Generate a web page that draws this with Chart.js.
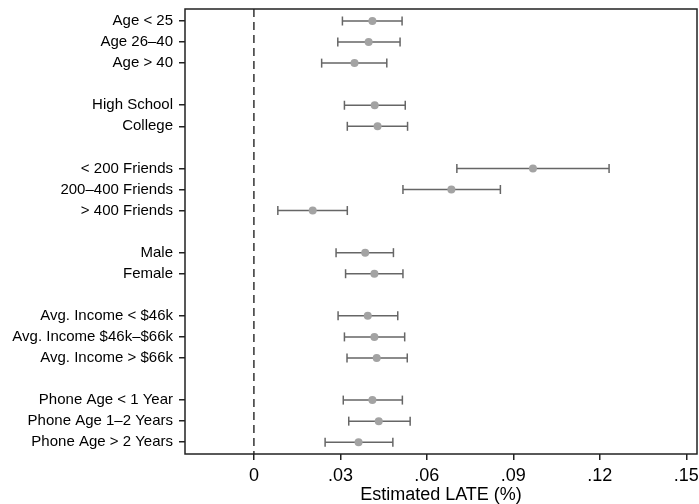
<!DOCTYPE html>
<html>
<head>
<meta charset="utf-8">
<script src="https://cdn.jsdelivr.net/npm/chart.js@4.4.0/dist/chart.umd.min.js"></script>
<style>
  html, body { margin: 0; padding: 0; background: #fff; }
  #wrap { width: 699px; height: 504px; }
</style>
</head>
<body>
<div id="wrap"><canvas id="lateChart" width="699" height="504"></canvas></div>
<script>
// rows of the plot, "" = blank spacer row between groups
const categories = [
  "Age < 25", "Age 26–40", "Age > 40", "",
  "High School", "College", "",
  "< 200 Friends", "200–400 Friends", "> 400 Friends", "",
  "Male", "Female", "",
  "Avg. Income < $46k", "Avg. Income $46k–$66k", "Avg. Income > $66k", "",
  "Phone Age < 1 Year", "Phone Age 1–2 Years", "Phone Age > 2 Years"
];
const estimates = [0.0411, 0.0398, 0.0349, null, 0.0419, 0.0429, null,
  0.0968, 0.0685, 0.0204, null, 0.0386, 0.0418, null,
  0.0395, 0.0418, 0.0426, null, 0.0411, 0.0433, 0.0363];
const lower = [0.0307, 0.0291, 0.0235, null, 0.0314, 0.0324, null,
  0.0704, 0.0517, 0.0083, null, 0.0285, 0.0318, null,
  0.0292, 0.0314, 0.0323, null, 0.0310, 0.0329, 0.0247];
const upper = [0.0514, 0.0507, 0.0461, null, 0.0525, 0.0533, null,
  0.1232, 0.0855, 0.0324, null, 0.0484, 0.0517, null,
  0.0499, 0.0523, 0.0532, null, 0.0515, 0.0542, 0.0482];
const xTicks = [0, 0.03, 0.06, 0.09, 0.12, 0.15];
const xTickLabels = ["0", ".03", ".06", ".09", ".12", ".15"];

const rowIdx = categories.map((c, i) => (c ? i : null)).filter(i => i !== null);

// error bars: two points per row, a gap point breaks the line between rows
const ciData = [];
rowIdx.forEach(i => {
  ciData.push({ x: lower[i], y: i }, { x: upper[i], y: i }, { x: null, y: null });
});
const pointData = rowIdx.map(i => ({ x: estimates[i], y: i }));

const frameAndZero = {
  id: "frameAndZero",
  beforeDatasetsDraw(chart) {
    const { ctx, chartArea: a, scales } = chart;
    const x0 = scales.x.getPixelForValue(0);
    ctx.save();
    ctx.strokeStyle = "#333";
    ctx.lineWidth = 1.5;
    ctx.setLineDash([8, 5]);
    ctx.beginPath();
    ctx.moveTo(x0, a.top);
    ctx.lineTo(x0, a.bottom);
    ctx.stroke();
    ctx.restore();
  },
  afterDraw(chart) {
    const { ctx, chartArea: a } = chart;
    ctx.save();
    ctx.strokeStyle = "#222";
    ctx.lineWidth = 1.5;
    ctx.strokeRect(a.left, a.top, a.right - a.left, a.bottom - a.top);
    ctx.restore();
  }
};

Chart.defaults.font.family = "'Liberation Sans', Arial, Helvetica, sans-serif";
Chart.defaults.color = "#000";

new Chart(document.getElementById("lateChart"), {
  type: "scatter",
  data: {
    datasets: [
      {
        data: ciData,
        showLine: true,
        spanGaps: false,
        borderColor: "#666",
        borderWidth: 1.5,
        pointStyle: "line",
        rotation: 90,
        pointRadius: 4.5,
        pointBorderColor: "#666",
        pointBorderWidth: 1.5,
        order: 2
      },
      {
        data: pointData,
        pointStyle: "circle",
        pointRadius: 4,
        backgroundColor: "#a3a3a3",
        borderColor: "#a3a3a3",
        borderWidth: 0,
        order: 1
      }
    ]
  },
  options: {
    responsive: false,
    animation: false,
    layout: { autoPadding: false, padding: { top: 9, right: 2, left: 0, bottom: 0 } },
    plugins: { legend: { display: false }, tooltip: { enabled: false } },
    scales: {
      x: {
        type: "linear",
        min: -0.0239,
        max: 0.1537,
        afterBuildTicks: axis => { axis.ticks = xTicks.map(v => ({ value: v })); },
        afterFit: axis => {
          axis.height = 50;
          axis.paddingLeft = 0;
          axis.paddingRight = 0;
        },
        ticks: {
          font: { size: 18 },
          padding: 5,
          maxRotation: 0,
          callback: v => xTickLabels[xTicks.indexOf(v)]
        },
        grid: { drawOnChartArea: false, drawTicks: true, tickLength: 6, color: "#222", lineWidth: 1.5 },
        border: { display: false },
        title: { display: true, text: "Estimated LATE (%)", font: { size: 18 }, padding: { top: 0, bottom: -1.5 } }
      },
      y: {
        type: "linear",
        reverse: true,
        min: -0.57,
        max: 20.56,
        afterBuildTicks: axis => { axis.ticks = rowIdx.map(v => ({ value: v })); },
        afterFit: axis => {
          axis.width = 185;
          axis.paddingTop = 0;
          axis.paddingBottom = 0;
        },
        ticks: {
          font: { size: 15 },
          padding: 6,
          callback: v => categories[v]
        },
        grid: { drawOnChartArea: false, drawTicks: true, tickLength: 6, color: "#222", lineWidth: 1.5 },
        border: { display: false }
      }
    }
  },
  plugins: [frameAndZero]
});
</script>
</body>
</html>
